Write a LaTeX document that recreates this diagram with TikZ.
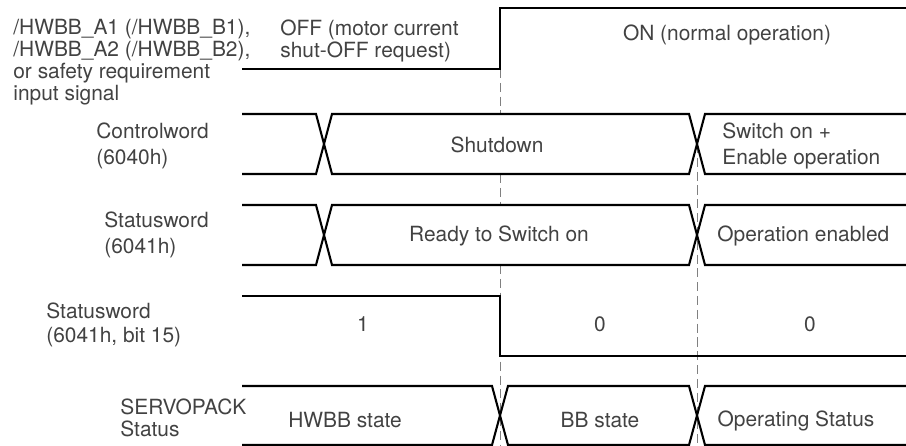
\documentclass[tikz,border=0pt]{standalone}
\usepackage{fontspec}
\setmainfont{TeX Gyre Heros}
\usetikzlibrary{positioning}
\definecolor{labelgray}{RGB}{66,66,66}
\tikzset{
  sig/.style={line width=1.15pt, line join=miter},
  guide/.style={draw=gray, line width=0.55pt, dash pattern=on 5pt off 2.6pt},
  lbl/.style={text=labelgray, inner sep=0pt, font=\fontsize{11.5}{14.5}\selectfont},
}
\begin{document}
\begin{tikzpicture}[x=0.55pt, y=-0.55pt]
      \useasboundingbox (0,0) rectangle (906,446);

      % guide lines at the two switching instants (left one only between rows)
      \draw[guide] (500,69) -- (500,114);
      \draw[guide] (500,174) -- (500,205);
      \draw[guide] (500,265) -- (500,446);
      \draw[guide] (697,144) -- (697,446);

      % input signal
      \draw[sig] (242,69) -- (500,69) -- (500,8) -- (906,8);
      \node[lbl, anchor=west, align=left, font=\fontsize{11.5}{12}\selectfont] (hwbbLbl) at (13,62)
        {/HWBB\_A1 (/HWBB\_B1),\\/HWBB\_A2 (/HWBB\_B2),\\or safety requirement\\input signal};
      \node[lbl, anchor=west, align=left, font=\fontsize{11.5}{12}\selectfont] (offTxt) at (280,41)
        {OFF (motor current\\shut-OFF request)};
      \node[lbl] (onTxt) at (727,35) {ON (normal operation)};

      % bus rows
      \foreach \ya/\yb/\xc in {114/174/324, 205/265/324, 386/445/500} {
        \draw[sig] (242,\ya) -- (\xc-8,\ya) -- (\xc+8,\yb) -- (689,\yb) -- (705,\ya) -- (906,\ya);
        \draw[sig] (242,\yb) -- (\xc-8,\yb) -- (\xc+8,\ya) -- (689,\ya) -- (705,\yb) -- (906,\yb);
      }

      \node[lbl, anchor=west, align=left] (cwLbl) at (96,146) {Controlword\\(6040h)};
      \node[lbl] (shutTxt) at (497,145) {Shutdown};
      \node[lbl, anchor=west, align=left] (enTxt) at (722,146) {Switch on +\\Enable operation};

      \node[lbl, anchor=west, align=left] (swLbl) at (104,235) {Statusword\\(6041h)};
      \node[lbl] (rdyTxt) at (499,236) {Ready to Switch on};
      \node[lbl, anchor=west] (opTxt) at (717,236) {Operation enabled};

      % bit 15
      \draw[sig] (242,296) -- (500,296) -- (500,356) -- (906,356);
      \node[lbl, anchor=west, align=left, font=\fontsize{11.5}{13.5}\selectfont] (bitLbl) at (46,325) {Statusword\\(6041h, bit 15)};
      \node[lbl] (oneTxt) at (363,324) {1};
      \node[lbl] (zeroA) at (600,324) {0};
      \node[lbl] (zeroB) at (810,324) {0};

      % servopack status
      \node[lbl, anchor=west, align=left, font=\fontsize{11.5}{12.5}\selectfont] (spLbl) at (120,418) {SERVOPACK\\Status};
      \node[lbl] (hwbbTxt) at (345,420) {HWBB state};
      \node[lbl] (bbTxt) at (600,420) {BB state};
      \node[lbl] (runTxt) at (796,421) {Operating Status};

    \end{tikzpicture}
\end{document}
